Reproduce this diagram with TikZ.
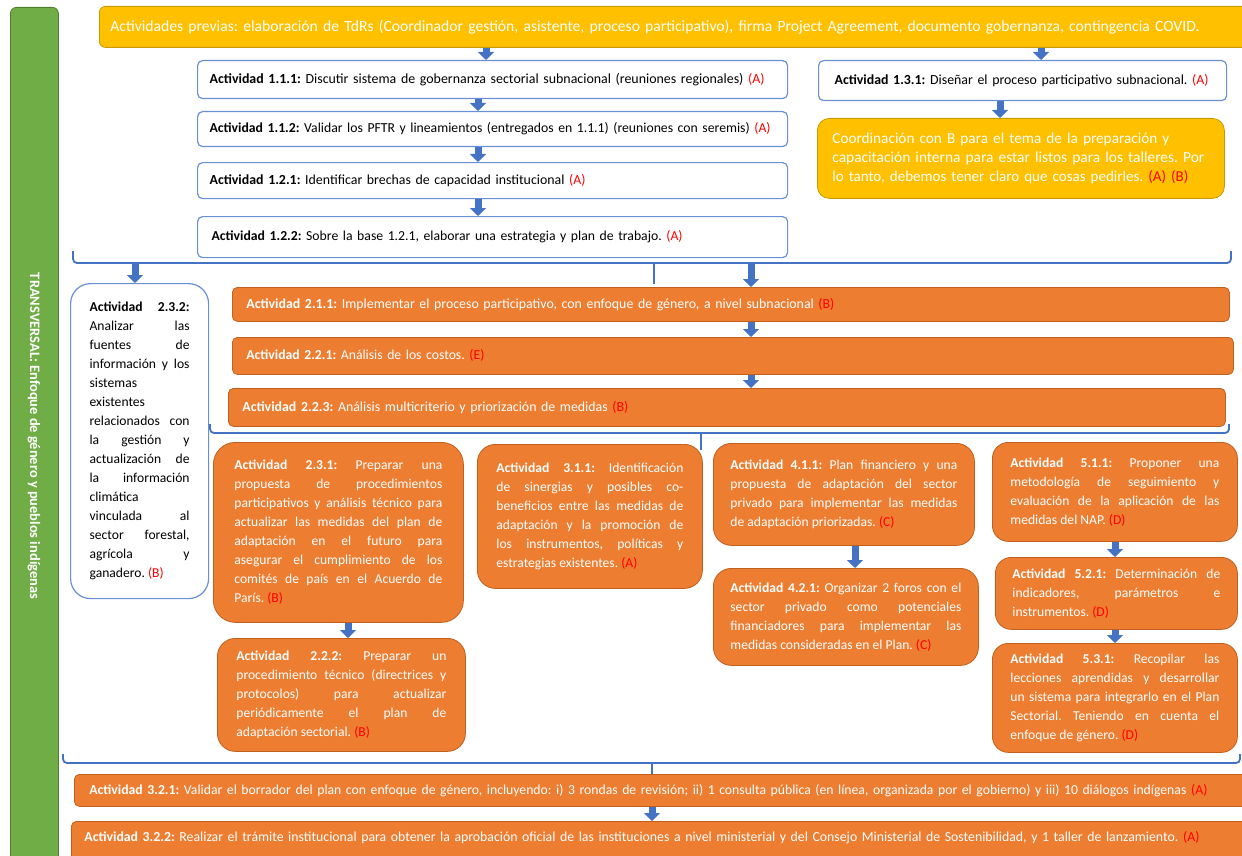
\documentclass[tikz,border=0pt]{standalone}
\usepackage{fontspec}
\setmainfont{Carlito}
\usepackage{graphicx}
\usetikzlibrary{arrows.meta}
\definecolor{orng}{HTML}{ED7D31}
\definecolor{orngdark}{HTML}{C0601F}
\definecolor{yel}{HTML}{FFC000}
\definecolor{yeldark}{HTML}{C99A00}
\definecolor{grn}{HTML}{70AD47}
\definecolor{grndark}{HTML}{507E32}
\definecolor{blu}{HTML}{4472C4}
\definecolor{bbord}{HTML}{6A90D4}
\definecolor{redtxt}{HTML}{FF0000}
\newcommand{\lb}[1]{\textbf{#1}}
\newcommand{\rd}[1]{\textcolor{redtxt}{#1}}
\newcommand{\J}[1]{\makebox[\linewidth][s]{#1}\par}
\newcommand{\fitw}[2]{\resizebox{#1pt}{!}{#2}}
\tikzset{
  wbox/.style={draw=bbord, line width=1.2pt, fill=white, rounded corners=5pt, anchor=north west, align=left, inner ysep=0pt, font=\fontsize{13.6}{19}\selectfont},
  obox/.style={draw=orngdark, line width=0.8pt, fill=orng, text=white, rounded corners=5pt, anchor=north west, align=left, inner ysep=0pt, font=\fontsize{13.6}{19}\selectfont},
  bigo/.style={obox, rounded corners=18pt, align=justify},
  ybox/.style={draw=yeldark, line width=0.8pt, fill=yel, text=white, rounded corners=6pt, anchor=north west, align=left, inner ysep=0pt},
  gbox/.style={draw=grndark, line width=0.8pt, fill=grn, rounded corners=6pt, anchor=north west},
  barrow/.style={draw=blu, line width=7pt, -{Triangle[width=16pt,length=8pt]}},
  brk/.style={draw=blu, line width=1.8pt, rounded corners=4pt},
}
\begin{document}
\frenchspacing
\begin{tikzpicture}[x=1pt,y=-1pt]
\useasboundingbox (0,0) rectangle (1242,856);
\clip (0,0) rectangle (1242,856);

% transversal bar
\node[gbox, minimum width=48pt, minimum height=870pt] (trans) at (10,7) {};
\node[rotate=-90, text=white, font=\bfseries\fontsize{13}{15}\selectfont, inner sep=0pt] (transtxt) at (34,436) {\fitw{326}{TRANSVERSAL: Enfoque de género y pueblos indígenas}};

% top bar
\node[ybox, minimum width=1170pt, minimum height=41pt, inner xsep=11pt, text width=1148pt, font=\fontsize{15}{17}\selectfont] (prev) at (99,6) {\fitw{1089}{Actividades previas: elaboración de TdRs (Coordinador gestión, asistente, proceso participativo), firma Project Agreement, documento gobernanza, contingencia COVID.}};

% first column
\node[wbox, minimum width=590pt, minimum height=38pt, inner xsep=12pt, text width=566pt] (a111) at (197,60) {\fitw{555}{\lb{Actividad 1.1.1:} Discutir sistema de gobernanza sectorial subnacional (reuniones regionales) \rd{(A)}}};
\node[wbox, minimum width=590pt, minimum height=35pt, inner xsep=12pt, text width=566pt] (a112) at (197,111) {\fitw{561}{\lb{Actividad 1.1.2:} Validar los PFTR y lineamientos (entregados en 1.1.1) (reuniones con seremis) \rd{(A)}}};
\node[wbox, minimum width=590pt, minimum height=36pt, inner xsep=12pt, text width=566pt] (a121) at (197,162) {\fitw{376}{\lb{Actividad 1.2.1:} Identificar brechas de capacidad institucional \rd{(A)}}};
\node[wbox, minimum width=590pt, minimum height=41pt, inner xsep=14pt, text width=562pt] (a122) at (197,216) {\fitw{471}{\lb{Actividad 1.2.2:} Sobre la base 1.2.1, elaborar una estrategia y plan de trabajo. \rd{(A)}}};

% right column
\node[wbox, minimum width=408pt, minimum height=40pt, inner xsep=16pt, text width=376pt] (a131) at (818,60) {\fitw{374}{\lb{Actividad 1.3.1:} Diseñar el proceso participativo subnacional. \rd{(A)}}};
\node[ybox, rounded corners=12pt, minimum width=407pt, minimum height=80pt, inner xsep=15pt, text width=377pt, font=\fontsize{15.5}{19}\selectfont] (coord) at (817,118) {\fitw{337}{Coordinación con B para el tema de la preparación y}\\\fitw{372}{capacitación interna para estar listos para los talleres. Por}\\\fitw{356}{lo tanto, debemos tener claro que cosas pedirles. \rd{(A) (B)}}};

\draw[barrow] (prev.south -| 486,0) -- (a111.north -| 486,0);
\draw[barrow] (prev.south -| 1041,0) -- (a131.north -| 1041,0);
\draw[barrow] (a111.south -| 478,0) -- (a112.north -| 478,0);
\draw[barrow] (a112.south -| 478,0) -- (a121.north -| 478,0);
\draw[barrow] (a121.south -| 478,0) -- (a122.north -| 478,0);
\draw[barrow] (a131.south -| 1000,0) -- (coord.north -| 1000,0);

% bracket 1
\draw[brk] (73,251) -- (73,263) -- (1231,263) -- (1231,251);
\coordinate (br1) at (654,263);
\draw[brk] (br1) -- (654,284);
\coordinate (br1a) at (135,264);
\coordinate (br1b) at (751,264);

% second level
\node[wbox, rounded corners=20pt, minimum width=138pt, minimum height=315pt, inner xsep=19pt, text width=100pt, align=justify] (a232) at (70,283) {\J{\lb{Actividad 2.3.2:}}\J{Analizar las}\J{fuentes de}\J{información y los}sistemas\par existentes\par\J{relacionados con}\J{la gestión y}\J{actualización de}\J{la información}climática\par\J{vinculada al}\J{sector forestal,}\J{agrícola y}ganadero. \rd{(B)}};

\node[obox, minimum width=997pt, minimum height=34pt, inner xsep=14pt, text width=969pt] (a211) at (232,287) {\fitw{588}{\lb{Actividad 2.1.1:} Implementar el proceso participativo, con enfoque de género, a nivel subnacional \rd{(B)}}};
\node[obox, minimum width=1001pt, minimum height=37pt, inner xsep=14pt, text width=973pt] (a221) at (232,337) {\fitw{238}{\lb{Actividad 2.2.1:} Análisis de los costos. \rd{(E)}}};
\node[obox, minimum width=997pt, minimum height=38pt, inner xsep=14pt, text width=969pt] (a223) at (228,388) {\fitw{386}{\lb{Actividad 2.2.3:} Análisis multicriterio y priorización de medidas \rd{(B)}}};

\draw[barrow] (br1a) -- (a232.north -| 135,0);
\draw[barrow] (br1b) -- (a211.north -| 751,0);
\draw[barrow] (a211.south -| 751,0) -- (a221.north -| 751,0);
\draw[barrow] (a221.south -| 751,0) -- (a223.north -| 751,0);

% bracket 2
\draw[brk] (210,424) -- (210,433) -- (1229,433) -- (1229,424);
\coordinate (br2) at (701,433);
\draw[brk] (br2) -- (701,450);

% lower boxes
\node[bigo, rounded corners=22pt, minimum width=250pt, minimum height=180pt, inner xsep=21pt, text width=208pt] (a231) at (213,442) {\J{\lb{Actividad 2.3.1:} Preparar una}\J{propuesta de procedimientos}\J{participativos y análisis técnico para}\J{actualizar las medidas del plan de}\J{adaptación en el futuro para}\J{asegurar el cumplimiento de los}\J{comités de país en el Acuerdo de}París. \rd{(B)}};
\node[bigo, minimum width=248pt, minimum height=113pt, inner xsep=19pt, text width=210pt] (a222) at (217,638) {\J{\lb{Actividad 2.2.2:} Preparar un}\J{procedimiento técnico (directrices y}\J{protocolos) para actualizar}\J{periódicamente el plan de}adaptación sectorial. \rd{(B)}};
\draw[barrow] (a231.south -| 348,0) -- (a222.north -| 348,0);

\node[bigo, minimum width=225pt, minimum height=144pt, inner xsep=19pt, text width=187pt] (a311) at (477,444) {\J{\lb{Actividad 3.1.1:} Identificación}\J{de sinergias y posibles co-}\J{beneficios entre las medidas de}\J{adaptación y la promoción de}\J{los instrumentos, políticas y}estrategias existentes. \rd{(A)}};

\node[bigo, minimum width=261pt, minimum height=102pt, inner xsep=17pt, text width=227pt] (a411) at (713,443) {\J{\lb{Actividad 4.1.1:} Plan financiero y una}\J{propuesta de adaptación del sector}\J{privado para implementar las medidas}de adaptación priorizadas. \rd{(C)}};
\node[bigo, minimum width=265pt, minimum height=97pt, inner xsep=17pt, text width=231pt] (a421) at (713,568) {\J{\lb{Actividad 4.2.1:} Organizar 2 foros con el}\J{sector privado como potenciales}\J{financiadores para implementar las}medidas consideradas en el Plan. \rd{(C)}};
\draw[barrow] (a411.south -| 855,0) -- (a421.north -| 855,0);

\node[bigo, rounded corners=16pt, minimum width=245pt, minimum height=99pt, inner xsep=18pt, text width=209pt] (a511) at (992,442) {\J{\lb{Actividad 5.1.1:} Proponer una}\J{metodología de seguimiento y}\J{evaluación de la aplicación de las}medidas del NAP. \rd{(D)}};
\node[bigo, rounded corners=16pt, minimum width=242pt, minimum height=72pt, inner xsep=17pt, text width=208pt] (a521) at (995,557) {\J{\lb{Actividad 5.2.1:} Determinación de}\J{indicadores, parámetros e}instrumentos. \rd{(D)}};
\node[bigo, rounded corners=16pt, minimum width=245pt, minimum height=109pt, inner xsep=18pt, text width=209pt] (a531) at (992,643) {\J{\lb{Actividad 5.3.1:} Recopilar las}\J{lecciones aprendidas y desarrollar}\J{un sistema para integrarlo en el Plan}\J{Sectorial. Teniendo en cuenta el}enfoque de género. \rd{(D)}};
\draw[barrow] (a511.south -| 1115,0) -- (a521.north -| 1115,0);
\draw[barrow] (a521.south -| 1115,0) -- (a531.north -| 1115,0);

% bracket 3
\draw[brk] (63,754) -- (63,763) -- (1240,763) -- (1240,754);
\coordinate (br3) at (652,763);

% bottom bars
\node[obox, minimum width=1186pt, minimum height=32pt, inner xsep=15pt, text width=1156pt] (a321) at (74,774) {\fitw{1118}{\lb{Actividad 3.2.1:} Validar el borrador del plan con enfoque de género, incluyendo: i) 3 rondas de revisión; ii) 1 consulta pública (en línea, organizada por el gobierno) y iii) 10 diálogos indígenas \rd{(A)}}};
\node[obox, minimum width=1190pt, minimum height=50pt, inner xsep=13pt, text width=1164pt] (a322) at (71,821) {\raisebox{20pt}{\fitw{1115}{\lb{Actividad 3.2.2:} Realizar el trámite institucional para obtener la aprobación oficial de las instituciones a nivel ministerial y del Consejo Ministerial de Sostenibilidad, y 1 taller de lanzamiento. \rd{(A)}}}};
\draw[brk, rounded corners=0pt] (br3) -- (a321.north -| 652,0);
\draw[barrow] (a321.south -| 652,0) -- (a322.north -| 652,0);
\end{tikzpicture}
\end{document}
